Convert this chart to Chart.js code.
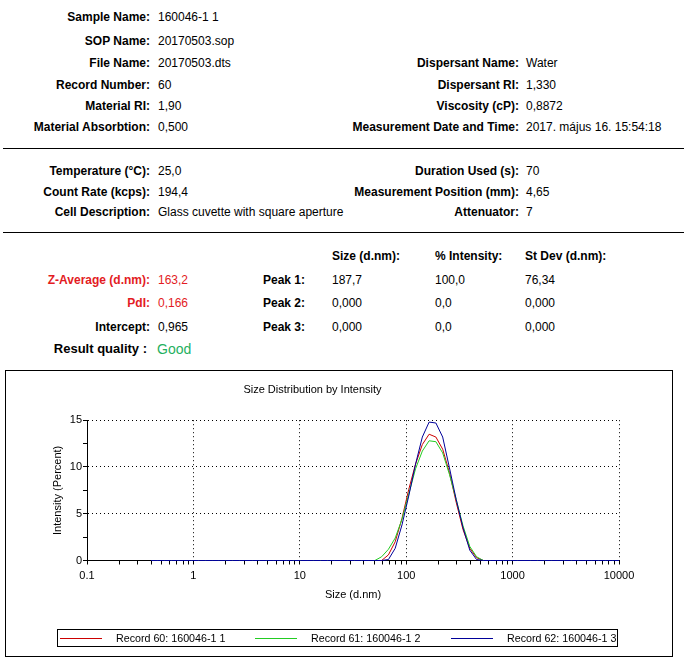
<!DOCTYPE html>
<html>
<head>
<meta charset="utf-8">
<title>Size Distribution by Intensity</title>
<script src="https://cdn.jsdelivr.net/npm/chart.js@4/dist/chart.umd.min.js"></script>
<style>
    html, body { margin: 0; padding: 0; background: #fff; }
    #page { position: relative; width: 686px; height: 667px; overflow: hidden;
            font-family: "Liberation Sans", Arial, sans-serif; color: #000; }
    .t { position: absolute; font-size: 12px; line-height: 14px; white-space: nowrap; }
    .b { font-weight: bold; }
    .red { color: #e31b23; }
    .rule { position: absolute; left: 3px; width: 681px; height: 1px; background: #000; }
    #chartBox { position: absolute; left: 5px; top: 370px; width: 668px; height: 287px;
                box-sizing: border-box; border: 1px solid #000; }
    #chartBox canvas { position: absolute; left: 0; top: 0; }
    #legend { position: absolute; left: 51px; top: 258px; width: 561px; height: 18px;
              box-sizing: border-box; border: 1px solid #000; font-size: 10.7px; }
    #legend .line { position: absolute; top: 8px; width: 42px; height: 1px; }
    #legend .txt { position: absolute; top: 1px; line-height: 14px; white-space: nowrap; }
</style>
</head>
<body>
<div id="page">
    <!-- sample / dispersant block -->
    <div class="t b" style="right:536px;top:10px">Sample Name:</div>
    <div class="t" style="left:158px;top:10px">160046-1 1</div>
    <div class="t b" style="right:536px;top:34px">SOP Name:</div>
    <div class="t" style="left:158px;top:34px">20170503.sop</div>
    <div class="t b" style="right:536px;top:56px">File Name:</div>
    <div class="t" style="left:158px;top:56px">20170503.dts</div>
    <div class="t b" style="right:536px;top:78px">Record Number:</div>
    <div class="t" style="left:158px;top:78px">60</div>
    <div class="t b" style="right:536px;top:99px">Material RI:</div>
    <div class="t" style="left:158px;top:99px">1,90</div>
    <div class="t b" style="right:536px;top:120px">Material Absorbtion:</div>
    <div class="t" style="left:158px;top:120px">0,500</div>

    <div class="t b" style="right:167px;top:56px">Dispersant Name:</div>
    <div class="t" style="left:526px;top:56px">Water</div>
    <div class="t b" style="right:167px;top:78px">Dispersant RI:</div>
    <div class="t" style="left:526px;top:78px">1,330</div>
    <div class="t b" style="right:167px;top:99px">Viscosity (cP):</div>
    <div class="t" style="left:526px;top:99px">0,8872</div>
    <div class="t b" style="right:167px;top:120px">Measurement Date and Time:</div>
    <div class="t" style="left:526px;top:120px">2017. május 16. 15:54:18</div>

    <div class="rule" style="top:148px"></div>

    <!-- measurement block -->
    <div class="t b" style="right:536px;top:164px">Temperature (°C):</div>
    <div class="t" style="left:158px;top:164px">25,0</div>
    <div class="t b" style="right:536px;top:185px">Count Rate (kcps):</div>
    <div class="t" style="left:158px;top:185px">194,4</div>
    <div class="t b" style="right:536px;top:205px">Cell Description:</div>
    <div class="t" style="left:158px;top:205px">Glass cuvette with square aperture</div>

    <div class="t b" style="right:167px;top:164px">Duration Used (s):</div>
    <div class="t" style="left:526px;top:164px">70</div>
    <div class="t b" style="right:167px;top:185px">Measurement Position (mm):</div>
    <div class="t" style="left:526px;top:185px">4,65</div>
    <div class="t b" style="right:167px;top:205px">Attenuator:</div>
    <div class="t" style="left:526px;top:205px">7</div>

    <div class="rule" style="top:232px"></div>

    <!-- results block -->
    <div class="t b" style="left:332px;top:249px">Size (d.nm):</div>
    <div class="t b" style="left:435px;top:249px">% Intensity:</div>
    <div class="t b" style="left:525px;top:249px">St Dev (d.nm):</div>

    <div class="t b red" style="right:536px;top:273px">Z-Average (d.nm):</div>
    <div class="t red" style="left:158px;top:273px">163,2</div>
    <div class="t b red" style="right:536px;top:296px">PdI:</div>
    <div class="t red" style="left:158px;top:296px">0,166</div>
    <div class="t b" style="right:536px;top:320px">Intercept:</div>
    <div class="t" style="left:158px;top:320px">0,965</div>
    <div class="t b" style="right:539px;top:341px;font-size:13px;line-height:16px">Result quality :</div>
    <div class="t" style="left:157px;top:341px;font-size:14px;line-height:16px;color:#1fb060">Good</div>

    <div class="t b" style="left:263px;top:273px">Peak 1:</div>
    <div class="t" style="left:332px;top:273px">187,7</div>
    <div class="t" style="left:435px;top:273px">100,0</div>
    <div class="t" style="left:525px;top:273px">76,34</div>
    <div class="t b" style="left:263px;top:296px">Peak 2:</div>
    <div class="t" style="left:332px;top:296px">0,000</div>
    <div class="t" style="left:435px;top:296px">0,0</div>
    <div class="t" style="left:525px;top:296px">0,000</div>
    <div class="t b" style="left:263px;top:320px">Peak 3:</div>
    <div class="t" style="left:332px;top:320px">0,000</div>
    <div class="t" style="left:435px;top:320px">0,0</div>
    <div class="t" style="left:525px;top:320px">0,000</div>

    <div id="chartBox">
        <canvas id="sizeChart" width="666" height="285"></canvas>
        <div id="legend"></div>
    </div>
</div>

<script>
// size classes (d.nm) of the distribution
const sizes = [
    0.4, 0.4632, 0.5365, 0.6213, 0.7195, 0.8332, 0.9649, 1.117, 1.294, 1.499,
    1.736, 2.010, 2.328, 2.696, 3.122, 3.615, 4.187, 4.849, 5.615, 6.503,
    7.531, 8.721, 10.10, 11.70, 13.54, 15.69, 18.17, 21.04, 24.36, 28.21,
    32.67, 37.84, 43.82, 50.75, 58.77, 68.06, 78.82, 91.28, 105.7, 122.4,
    141.8, 164.2, 190.1, 220.2, 255.0, 295.3, 342.0, 396.1, 458.7, 531.2,
    615.1, 712.4, 825.0, 955.4, 1106, 1281, 1484, 1718, 1990, 2305,
    2669, 3091, 3580, 4145, 4801, 5560, 6439, 7456, 8635, 10000
];

// intensity (%) per size class
const record60 = [
    0, 0, 0, 0, 0, 0, 0, 0, 0, 0,
    0, 0, 0, 0, 0, 0, 0, 0, 0, 0,
    0, 0, 0, 0, 0, 0, 0, 0, 0, 0,
    0, 0, 0, 0, 0, 0.6, 2.0, 4.5, 7.6, 10.3,
    12.4, 13.5, 13.2, 11.9, 9.4, 6.2, 3.3, 1.3, 0.3, 0,
    0, 0, 0, 0, 0, 0, 0, 0, 0, 0,
    0, 0, 0, 0, 0, 0, 0, 0, 0, 0
];
const record61 = [
    0, 0, 0, 0, 0, 0, 0, 0, 0, 0,
    0, 0, 0, 0, 0, 0, 0, 0, 0, 0,
    0, 0, 0, 0, 0, 0, 0, 0, 0, 0,
    0, 0, 0, 0, 0.4, 1.2, 2.4, 4.4, 7.1, 9.8,
    11.7, 12.8, 12.7, 11.5, 9.2, 6.5, 3.7, 1.5, 0.4, 0,
    0, 0, 0, 0, 0, 0, 0, 0, 0, 0,
    0, 0, 0, 0, 0, 0, 0, 0, 0, 0
];
const record62 = [
    0, 0, 0, 0, 0, 0, 0, 0, 0, 0,
    0, 0, 0, 0, 0, 0, 0, 0, 0, 0,
    0, 0, 0, 0, 0, 0, 0, 0, 0, 0,
    0, 0, 0, 0, 0, 0.1, 1.3, 3.8, 6.9, 10.3,
    13.2, 14.8, 14.7, 13.2, 9.9, 6.5, 3.5, 1.1, 0.1, 0,
    0, 0, 0, 0, 0, 0, 0, 0, 0, 0,
    0, 0, 0, 0, 0, 0, 0, 0, 0, 0
];

const seriesNames = ["Record 60: 160046-1 1", "Record 61: 160046-1 2", "Record 62: 160046-1 3"];
const seriesColors = ["#cc0000", "#22cc22", "#000099"];

// axis ticks
const decadeTicks = [0.1, 1, 10, 100, 1000, 10000];
const decadeLabels = ["0.1", "1", "10", "100", "1000", "10000"];
const minorSteps = [2, 3, 4, 5, 6, 7, 8, 9];
const yLabels = [0, 5, 10, 15];

const xTicks = [];
decadeTicks.forEach(function (d, i) {
    xTicks.push({ value: d, major: true });
    if (i < decadeTicks.length - 1) {
        minorSteps.forEach(function (m) { xTicks.push({ value: d * m, major: false }); });
    }
});

function decadeIndex(v) {
    for (let i = 0; i < decadeTicks.length; i++) {
        if (Math.abs(v - decadeTicks[i]) < decadeTicks[i] * 1e-6) return i;
    }
    return -1;
}

function points(values) {
    return sizes.map(function (s, i) { return { x: s, y: values[i] }; });
}

// dotted grid lines, solid axis line
function gridDash(ctx) {
    return ctx.type === "tick" ? [1, 3] : [];
}

Chart.defaults.font.family = '"Liberation Sans", Arial, sans-serif';
Chart.defaults.font.size = 11;
Chart.defaults.color = "#000";

const records = [record60, record61, record62];
const datasets = records.map(function (vals, i) {
    return {
        label: seriesNames[i],
        data: points(vals),
        borderColor: seriesColors[i],
        backgroundColor: seriesColors[i],
        borderWidth: 1,
        pointRadius: 0,
        tension: 0,
        fill: false,
        clip: false,
        order: 3 - i
    };
});

new Chart(document.getElementById("sizeChart"), {
    type: "line",
    data: { datasets: datasets },
    options: {
        responsive: false,
        animation: false,
        events: [],
        layout: { padding: { left: 0, right: 53, top: 0, bottom: 0 } },
        plugins: {
            legend: { display: false },
            tooltip: { enabled: false },
            title: {
                display: true,
                text: "Size Distribution by Intensity",
                font: { size: 11, weight: "normal" },
                color: "#000",
                padding: { top: 12, bottom: 24 }
            }
        },
        scales: {
            x: {
                type: "logarithmic",
                min: 0.1,
                max: 10000,
                afterBuildTicks: function (scale) { scale.ticks = xTicks.slice(); },
                afterFit: function (scale) { scale.height = 95.5; },
                ticks: {
                    autoSkip: false,
                    maxRotation: 0,
                    padding: 5,
                    callback: function (v) {
                        const i = decadeIndex(v);
                        return i >= 0 ? decadeLabels[i] : "";
                    }
                },
                grid: {
                    color: function (ctx) {
                        return ctx.tick && decadeIndex(ctx.tick.value) >= 0 ? "#000" : "rgba(0,0,0,0)";
                    },
                    tickColor: "#000",
                    tickLength: 4,
                    tickBorderDash: []
                },
                border: { display: true, color: "#000", width: 1, dash: gridDash },
                title: {
                    display: true,
                    text: "Size (d.nm)",
                    font: { size: 11 },
                    color: "#000",
                    padding: { top: 0, bottom: 54 }
                }
            },
            y: {
                min: 0,
                max: 15,
                afterFit: function (scale) { scale.width = 81; },
                ticks: {
                    stepSize: 2.5,
                    autoSkip: false,
                    padding: 1,
                    callback: function (v) {
                        return yLabels.indexOf(v) >= 0 ? String(v) : "";
                    }
                },
                grid: {
                    color: function (ctx) {
                        return ctx.tick && yLabels.indexOf(ctx.tick.value) > 0 ? "#000" : "rgba(0,0,0,0)";
                    },
                    tickColor: "#000",
                    tickLength: 4,
                    tickBorderDash: []
                },
                border: { display: true, color: "#000", width: 1, dash: gridDash },
                title: {
                    display: true,
                    text: "Intensity (Percent)",
                    font: { size: 11 },
                    color: "#000",
                    padding: { top: 45, bottom: 0 }
                }
            }
        }
    }
});

// legend in its own framed box under the plot
const legendLeft = [2, 197, 393];
const legend = document.getElementById("legend");
seriesNames.forEach(function (name, i) {
    const line = document.createElement("div");
    line.className = "line";
    line.style.left = legendLeft[i] + "px";
    line.style.background = seriesColors[i];
    legend.appendChild(line);
    const txt = document.createElement("div");
    txt.className = "txt";
    txt.style.left = (legendLeft[i] + 56) + "px";
    txt.textContent = name;
    legend.appendChild(txt);
});
</script>
</body>
</html>
